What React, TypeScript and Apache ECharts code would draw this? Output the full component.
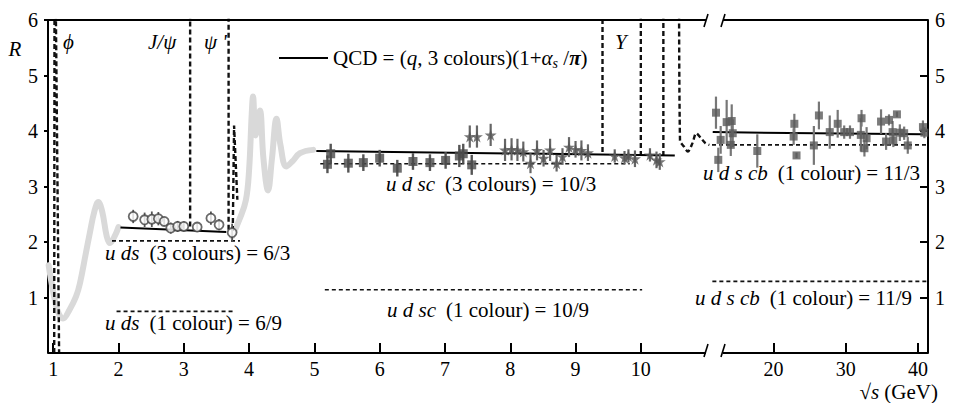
import React, { useEffect, useRef } from "react";
import * as echarts from "echarts";

const FONT = '"Liberation Serif", "DejaVu Serif", serif';

// ---------- data (√s in GeV, R) ----------
// open circles, 2–3.8 GeV: [√s, R, error]
const lowCircles = [
  [2.225, 2.46, 0.12], [2.4, 2.4, 0.13], [2.51, 2.41, 0.14], [2.61, 2.42, 0.12],
  [2.7, 2.37, 0.08], [2.8, 2.25, 0.1], [2.905, 2.28, 0.1], [3.0, 2.28, 0.09],
  [3.205, 2.27, 0.08], [3.415, 2.43, 0.12], [3.54, 2.31, 0.1], [3.74, 2.17, 0.16],
];
// filled squares, 5–7.5 GeV
const midSquares = [
  [5.2, 3.4, 0.16], [5.25, 3.59, 0.18], [5.52, 3.42, 0.17], [5.75, 3.43, 0.15],
  [6.0, 3.51, 0.15], [6.27, 3.33, 0.15], [6.51, 3.45, 0.15], [6.77, 3.43, 0.15],
  [7.01, 3.47, 0.15], [7.22, 3.55, 0.2], [7.28, 3.59, 0.18], [7.41, 3.39, 0.18],
];
// stars, 7.4–10.3 GeV
const midStars = [
  [7.38, 3.9, 0.2], [7.49, 3.9, 0.2], [7.7, 3.93, 0.2], [7.92, 3.66, 0.2],
  [8.02, 3.67, 0.2], [8.11, 3.66, 0.2], [8.2, 3.63, 0.18], [8.31, 3.42, 0.18],
  [8.41, 3.65, 0.18], [8.51, 3.51, 0.15], [8.61, 3.66, 0.2], [8.71, 3.42, 0.15],
  [8.8, 3.54, 0.15], [8.9, 3.71, 0.18], [9.0, 3.67, 0.15], [9.09, 3.65, 0.18],
  [9.19, 3.61, 0.15], [9.6, 3.55, 0.12], [9.75, 3.52, 0.12], [9.81, 3.55, 0.12],
  [9.91, 3.5, 0.15], [10.14, 3.57, 0.12], [10.24, 3.48, 0.15], [10.29, 3.45, 0.15],
];
// squares, 12–41 GeV
const highSquares = [
  [12.05, 4.33, 0.29], [12.37, 3.48, 0.22], [12.7, 3.84, 0.25], [13.53, 4.16, 0.4],
  [14.1, 3.75, 0.2], [14.23, 4.18, 0.3], [14.37, 3.96, 0.25], [17.77, 3.64, 0.3],
  [22.8, 3.9, 0.15], [22.9, 4.13, 0.18], [23.2, 3.56, 0.05], [25.6, 3.74, 0.35],
  [26.3, 4.28, 0.25], [27.8, 3.98, 0.3], [28.9, 4.13, 0.25], [29.8, 3.98, 0.12],
  [30.6, 3.98, 0.12], [32.1, 3.93, 0.3], [32.2, 4.23, 0.15], [32.6, 3.69, 0.15],
  [32.9, 3.87, 0.2], [34.9, 4.17, 0.22], [35.6, 3.81, 0.15], [36.0, 4.2, 0.1],
  [36.5, 3.98, 0.2], [36.6, 3.83, 0.12], [37.1, 4.3, 0.05], [37.5, 3.97, 0.15],
  [38.1, 3.96, 0.12], [38.6, 3.74, 0.15], [40.7, 4.07, 0.12], [40.9, 3.97, 0.1],
];
// grey measured curve
const greyLow = [
  [0.93, 1.58], [1.0, 1.1], [1.07, 0.75], [1.15, 0.62], [1.25, 0.78], [1.35, 1.02],
  [1.41, 1.26], [1.5, 1.8], [1.56, 2.16], [1.63, 2.55], [1.69, 2.72], [1.75, 2.55],
  [1.82, 2.1], [1.87, 1.98], [1.94, 2.1], [2.0, 2.27],
];
const greyCharm = [
  [3.74, 2.1], [3.85, 2.4], [3.95, 2.75], [4.0, 3.3], [4.04, 4.3], [4.06, 4.62],
  [4.1, 3.92], [4.165, 4.37], [4.22, 3.5], [4.29, 2.93], [4.35, 3.5], [4.42, 4.22],
  [4.48, 3.75], [4.57, 3.36], [4.66, 3.45], [4.78, 3.6], [4.98, 3.66],
];
// narrow resonances (dashed)
const phiPeak = [[1.015, 0], [1.02, 6.8], [1.035, 6.8], [1.09, 0]];
const jpsiPeak = [[3.097, 2.28], [3.097, 6.8]];
const psi2Peak = [[3.686, 2.22], [3.686, 6.8]];
const psi3770Peak = [[3.75, 2.2], [3.77, 4.1], [3.82, 2.76]];
const ups1Peak = [[9.413, 3.62], [9.413, 6.8]];
const ups2Peak = [[10.0, 3.55], [10.0, 6.8]];
const ups3Peak = [[10.345, 3.55], [10.345, 6.8]];
const ups4Peak = [
  [10.585, 6.8], [10.6, 3.83], [10.66, 3.72],
  [10.72, 3.63], [10.79, 3.78], [10.85, 3.96], [10.92, 3.87], [10.99, 3.78], [11.05, 3.75],
];
// QCD prediction (solid)
const qcdLow = [[2.03, 2.26], [3.65, 2.18]];
const qcdMid = [[5.03, 3.64], [10.52, 3.56]];
const qcdHigh = [[11.6, 3.98], [40.7, 3.94]];
// quark-parton levels (dashed)
const lvl63 = [[1.9, 2.02], [3.86, 2.02]];
const lvl69 = [[1.97, 0.75], [3.78, 0.75]];
const lvl103 = [[5.09, 3.41], [9.83, 3.41]];
const lvl109 = [[5.16, 1.14], [10.02, 1.14]];
const lvl113 = [[11.5, 3.75], [41.4, 3.75]];
const lvl119 = [[11.55, 1.29], [41.4, 1.29]];

const xTicksLow = [1, 2, 3, 4, 5, 6, 7, 8, 9, 10];
const xTicksHigh = [20, 30, 40];
const yTicks = [1, 2, 3, 4, 5, 6];

const bars = (pts: number[][]) => pts.map(([x, r, e]) => [x, r - e, r + e]);

function errSeries(pts: number[][], idx: number, color: string, w: number) {
  return {
    type: "custom",
    xAxisIndex: idx,
    yAxisIndex: idx,
    data: bars(pts),
    encode: { x: 0, y: [1, 2] },
    z: 3,
    silent: true,
    renderItem: (params: any, api: any) => {
      const a = api.coord([api.value(0), api.value(1)]);
      const b = api.coord([api.value(0), api.value(2)]);
      return {
        type: "line",
        shape: { x1: a[0], y1: a[1], x2: b[0], y2: b[1] },
        style: { stroke: color, lineWidth: w },
      };
    },
  };
}

function lineSeries(data: number[][], idx: number, style: any, z = 2, smooth: any = false) {
  return {
    type: "line",
    xAxisIndex: idx,
    yAxisIndex: idx,
    data,
    symbol: "none",
    smooth,
    z,
    silent: true,
    lineStyle: style,
  };
}

const DASH = { color: "#111", width: 2.4, type: [5, 3] };
const LEVEL = { color: "#111", width: 1.6, type: [4, 3] };
const SOLID = { color: "#000", width: 2, type: "solid" };
const STAR = "path://M50,0 L61,35 L98,35 L68,57 L79,91 L50,70 L21,91 L32,57 L2,35 L39,35 Z";

function txt(x: number, y: number, text: string, align = "left", extra: any = {}) {
  const base = { fontFamily: FONT, fontSize: 21, fill: "#000" };
  return {
    type: "text",
    x,
    y,
    z: 50,
    style: {
      text,
      ...base,
      align,
      textAlign: align,
      verticalAlign: "middle",
      textVerticalAlign: "middle",
      rich: {
        n: { fontFamily: FONT, fontSize: 21, color: "#000", lineHeight: 24 },
        i: { fontFamily: FONT, fontSize: 21, fontStyle: "italic", color: "#000", lineHeight: 24 },
        g: { fontFamily: FONT, fontSize: 21, color: "#000", lineHeight: 24, padding: [0, 0, 0, 10] },
        sub: { fontFamily: FONT, fontSize: 14, fontStyle: "italic", color: "#000", lineHeight: 12, verticalAlign: "bottom" },
        pi: { fontFamily: FONT, fontSize: 21, fontStyle: "italic", fontWeight: "bold", color: "#000", lineHeight: 24 },
      },
      ...extra,
    },
  };
}

function seg(x1: number, y1: number, x2: number, y2: number, w = 2) {
  return { type: "line", z: 40, shape: { x1, y1, x2, y2 }, style: { stroke: "#000", lineWidth: w } };
}

export default function App() {
  const ref = useRef<HTMLDivElement>(null);
  useEffect(() => {
    document.body.style.margin = "0";
    const chart = echarts.init(ref.current!, null, { renderer: "svg" });
    const xLabel = { fontFamily: FONT, fontSize: 20, color: "#000", margin: 6 };
    const option: any = {
      animation: false,
      backgroundColor: "#fff",
      grid: [
        { left: 48, top: 20, width: 664, height: 333 },
        { left: 712, top: 20, width: 216, height: 333 },
      ],
      xAxis: [
        {
          gridIndex: 0, type: "value", min: 0.92, max: 11.09,
          axisLine: { show: false }, splitLine: { show: false },
          axisTick: { show: true, inside: true, length: 10, customValues: xTicksLow, lineStyle: { color: "#000", width: 2 } },
          axisLabel: { ...xLabel, customValues: xTicksLow },
        },
        {
          gridIndex: 1, type: "value", min: 11.5, max: 41.4,
          axisLine: { show: false }, splitLine: { show: false },
          axisTick: { show: true, inside: true, length: 10, customValues: xTicksHigh, lineStyle: { color: "#000", width: 2 } },
          axisLabel: { ...xLabel, customValues: xTicksHigh },
        },
      ],
      yAxis: [
        {
          gridIndex: 0, type: "value", min: 0, max: 6, interval: 1,
          axisLine: { show: true, lineStyle: { color: "#000", width: 2 } },
          splitLine: { show: false },
          axisTick: { show: true, inside: false, length: 4, customValues: yTicks, lineStyle: { color: "#000", width: 2 } },
          axisLabel: { fontFamily: FONT, fontSize: 20, color: "#000", margin: 10, customValues: yTicks },
        },
        {
          gridIndex: 1, type: "value", min: 0, max: 6, interval: 1, position: "right",
          axisLine: { show: true, lineStyle: { color: "#000", width: 2 } },
          splitLine: { show: false },
          axisTick: { show: true, inside: true, length: 8, customValues: yTicks, lineStyle: { color: "#000", width: 2 } },
          axisLabel: { fontFamily: FONT, fontSize: 20, color: "#000", margin: 7, customValues: yTicks },
        },
      ],
      series: [
        lineSeries(greyLow, 0, { color: "#d9d9d9", width: 6, cap: "round", join: "round" }, 1, 0.4),
        lineSeries(greyCharm, 0, { color: "#d9d9d9", width: 6, cap: "round", join: "round" }, 1, 0.4),
        lineSeries(phiPeak, 0, DASH),
        lineSeries(jpsiPeak, 0, DASH),
        lineSeries(psi2Peak, 0, DASH),
        lineSeries(psi3770Peak, 0, DASH),
        lineSeries(ups1Peak, 0, DASH),
        lineSeries(ups2Peak, 0, DASH),
        lineSeries(ups3Peak, 0, DASH),
        lineSeries(ups4Peak, 0, DASH, 2, 0.3),
        lineSeries(lvl63, 0, LEVEL),
        lineSeries(lvl69, 0, LEVEL),
        lineSeries(lvl103, 0, LEVEL),
        lineSeries(lvl109, 0, LEVEL),
        lineSeries(lvl113, 1, LEVEL),
        lineSeries(lvl119, 1, LEVEL),
        lineSeries(qcdLow, 0, SOLID),
        lineSeries(qcdMid, 0, SOLID),
        lineSeries(qcdHigh, 1, SOLID),
        errSeries(lowCircles, 0, "#555", 1.8),
        errSeries(midSquares, 0, "#555", 2.4),
        errSeries(midStars, 0, "#666", 2.2),
        errSeries(highSquares, 1, "#777", 2.2),
        {
          type: "scatter", xAxisIndex: 0, yAxisIndex: 0, z: 5, silent: true,
          data: lowCircles.map(([x, r]) => [x, r]), symbol: "circle", symbolSize: 9,
          itemStyle: { color: "#fff", borderColor: "#444", borderWidth: 1.8 },
        },
        {
          type: "scatter", xAxisIndex: 0, yAxisIndex: 0, z: 5, silent: true,
          data: midSquares.map(([x, r]) => [x, r]), symbol: "rect", symbolSize: 9,
          itemStyle: { color: "#4a4a4a" },
        },
        {
          type: "scatter", xAxisIndex: 0, yAxisIndex: 0, z: 5, silent: true,
          data: midStars.map(([x, r]) => [x, r]), symbol: STAR, symbolSize: 12,
          itemStyle: { color: "#555" },
        },
        {
          type: "scatter", xAxisIndex: 1, yAxisIndex: 1, z: 5, silent: true,
          data: highSquares.map(([x, r]) => [x, r]), symbol: "rect", symbolSize: 8,
          itemStyle: { color: "#5a5a5a" },
        },
      ],
      graphic: [
        seg(48, 20, 706, 20), seg(723, 20, 928, 20),
        seg(48, 353, 706, 353), seg(723, 353, 928, 353),
        seg(704, 27, 708, 14, 1.6), seg(721, 27, 725, 14, 1.6),
        seg(704, 357, 708, 344, 1.6), seg(721, 357, 725, 344, 1.6),
        seg(279, 58, 328, 58, 2),
        txt(15, 49, "{i|R}", "center", { fontStyle: "italic", fontSize: 22 }),
        txt(63, 42, "{i|ϕ}"),
        txt(148, 42, "{i|J/ψ}"),
        txt(204, 42, "{i|ψ '}"),
        txt(615, 42, "{i|Υ}"),
        txt(333, 58, "{n|QCD = (}{i|q}{n|, 3 colours)(1+}{i|α}{sub|s}{n| /}{pi|π}{n|)}"),
        txt(105, 253, "{i|u ds}{g|(3 colours) = 6/3}"),
        txt(105, 323, "{i|u ds}{g|(1 colour) = 6/9}"),
        txt(386, 184, "{i|u d sc}{g|(3 colours) = 10/3}"),
        txt(387, 310, "{i|u d sc}{g|(1 colour) = 10/9}"),
        txt(703, 173, "{i|u d s cb}{g|(1 colour) = 11/3}"),
        txt(695, 298, "{i|u d s cb}{g|(1 colour) = 11/9}"),
        txt(938, 392, "{n|√}{i|s}{n| (GeV)}", "right"),
      ],
    };
    chart.setOption(option);
    return () => chart.dispose();
  }, []);
  return <div ref={ref} style={{ width: 954, height: 403 }} />;
}
